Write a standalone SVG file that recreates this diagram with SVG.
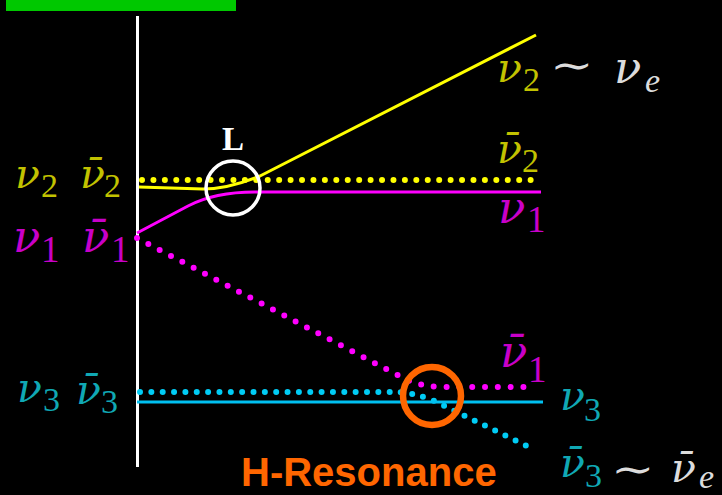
<svg xmlns="http://www.w3.org/2000/svg" width="722" height="495" viewBox="0 0 722 495">
<style>
.nu{font-family:"DejaVu Serif",serif;font-style:italic;font-size:41px}
.nuL{font-family:"DejaVu Serif",serif;font-style:italic;font-size:45px}
.sub{font-family:"Liberation Serif","DejaVu Serif",serif;font-size:34px}
.subL{font-family:"Liberation Serif","DejaVu Serif",serif;font-size:37px}
.tl{font-family:"DejaVu Serif",serif;font-size:40px}
.cy{fill:#C2C200}.cm{fill:#C800C8}.cc{fill:#10A8B4}.cw{fill:#DCDCDC}
.solid{fill:none;stroke-width:3;stroke-linejoin:round}
.dots{fill:none;stroke-width:6;stroke-linecap:round;stroke-linejoin:round}
</style>
<rect width="722" height="495" fill="#000"/>
<rect id="bar" x="6" y="0" width="230" height="11" fill="#00C800"/>
<line id="axis" x1="137.5" y1="16" x2="137.5" y2="467" stroke="#FFFFFF" stroke-width="3"/>
<g id="connectors">
  <path d="M142,180 L542,180" class="dots" stroke="#FFFF00" stroke-dasharray="0 11.43"/>
  <path d="M139,187 L203,189 C225,189 245,182 260,176 L536,35" class="solid" stroke="#FFFF00"/>
  <path d="M137,233 L188,206 C205,197 225,192 255,192 L541,192" class="solid" stroke="#FF00FF"/>
  <path d="M137,238 L405,379 C415,384 425,386 440,387 L534,387" class="dots" stroke="#FF00FF" stroke-dasharray="0 12.8"/>
  <path d="M140,392 L395,392 Q410,392 430,399 L527,446" class="dots" stroke="#00CCF5" stroke-dasharray="0 11.35"/>
  <path d="M137,402 L543,402" class="solid" stroke="#00C0F0"/>
</g>
<g id="L-marker">
  <circle cx="233" cy="188" r="27" fill="none" stroke="#FFFFFF" stroke-width="3.5"/>
  <text x="222" y="150" font-family="Liberation Serif,serif" font-weight="bold" font-size="33" fill="#FFFFFF">L</text>
</g>
<g id="H-resonance">
  <circle cx="432" cy="396" r="29" fill="none" stroke="#FF6600" stroke-width="6.5"/>
  <text x="241" y="486" font-family="Liberation Sans,Arial,sans-serif" font-weight="bold" font-size="40" fill="#FF6600">H-Resonance</text>
</g>
<g id="labels-left">
  <text class="cy"><tspan class="nu" x="15" y="188">ν</tspan><tspan class="sub" x="41" y="197">2</tspan></text>
  <text class="cy"><tspan class="nu" x="80" y="188">ν̄</tspan><tspan class="sub" x="104" y="197">2</tspan></text>
  <text class="cm"><tspan class="nuL" x="13" y="252">ν</tspan><tspan class="subL" x="41" y="262">1</tspan></text>
  <text class="cm"><tspan class="nuL" x="82" y="252">ν̄</tspan><tspan class="subL" x="111" y="262">1</tspan></text>
  <text class="cc"><tspan class="nu" x="17" y="402">ν</tspan><tspan class="sub" x="43" y="411">3</tspan></text>
  <text class="cc"><tspan class="nu" x="76" y="404">ν̄</tspan><tspan class="sub" x="101" y="413">3</tspan></text>
</g>
<g id="labels-right">
  <text class="cy"><tspan class="nu" x="497" y="82">ν</tspan><tspan class="sub" x="523" y="91">2</tspan></text>
  <text class="cw tl" transform="translate(550,79) scale(1.3,1)">∼</text>
  <text class="cw"><tspan class="nuL" x="614" y="83">ν</tspan><tspan class="sub" x="645" y="92" font-style="italic">e</tspan></text>
  <text class="cy"><tspan class="nu" x="497" y="163">ν̄</tspan><tspan class="sub" x="522" y="172">2</tspan></text>
  <text class="cm"><tspan class="nuL" x="498" y="223">ν</tspan><tspan class="subL" x="527" y="232">1</tspan></text>
  <text class="cm"><tspan class="nuL" x="500" y="367">ν̄</tspan><tspan class="subL" x="528" y="382">1</tspan></text>
  <text class="cc"><tspan class="nu" x="560" y="410">ν</tspan><tspan class="sub" x="584" y="421">3</tspan></text>
  <text class="cc"><tspan class="nu" x="560" y="477">ν̄</tspan><tspan class="sub" x="585" y="487" font-size="31">3</tspan></text>
  <text class="cw tl" transform="translate(611,483) scale(1.3,1)">∼</text>
  <text class="cw"><tspan class="nu" x="671" y="482">ν̄</tspan><tspan class="sub" x="699" y="488" font-size="27" font-style="italic">e</tspan></text>
</g>
</svg>
